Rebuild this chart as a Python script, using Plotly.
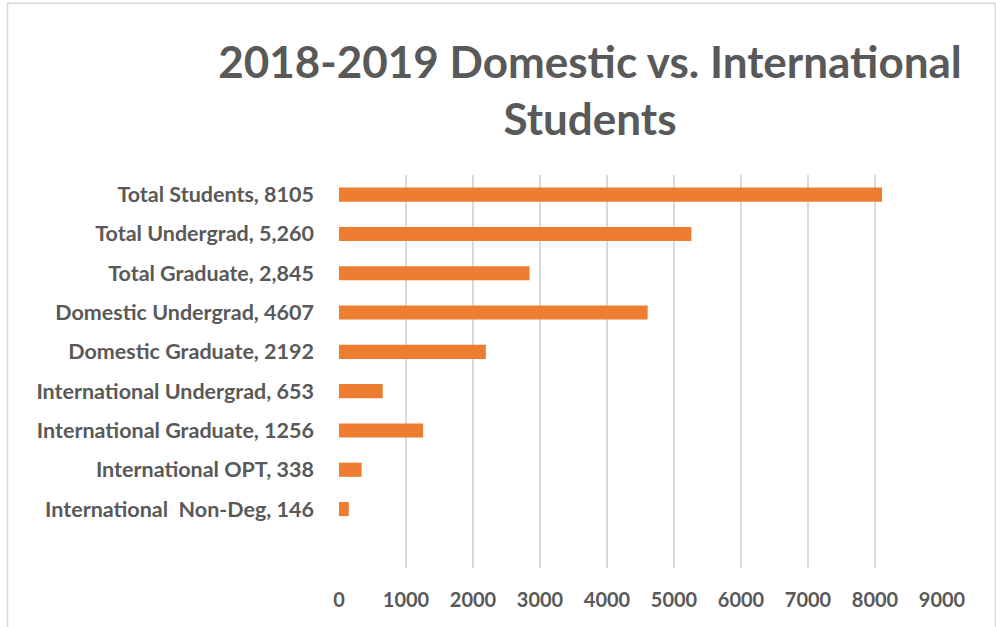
import plotly.graph_objects as go

categories = [
    "Total Students, 8105",
    "Total Undergrad, 5,260",
    "Total Graduate, 2,845",
    "Domestic Undergrad, 4607",
    "Domestic Graduate, 2192",
    "International Undergrad, 653",
    "International Graduate, 1256",
    "International OPT, 338",
    "International\u00a0 Non-Deg, 146",
]
values = [8105, 5260, 2845, 4607, 2192, 653, 1256, 338, 146]
x_ticks = [0, 1000, 2000, 3000, 4000, 5000, 6000, 7000, 8000, 9000]

W, H = 996, 627
ML, MR, MT, MB = 338.5, 54.4, 174.7, 59.3
PW, PH = W - ML - MR, H - MT - MB

def px_x(p):
    return (p - ML) / PW

def px_y(p):
    return 1 - (p - MT) / PH

GRAY = "#595959"
FONT = "Lato"

fig = go.Figure()
fig.add_trace(go.Bar(
    y=categories, x=values, orientation="h",
    marker=dict(color="#ED7D31", line=dict(width=0)),
    width=0.36,
    hoverinfo="x+y",
))

fig.update_layout(
    width=W, height=H,
    margin=dict(l=ML, r=MR, t=MT, b=MB, pad=0),
    paper_bgcolor="white", plot_bgcolor="white",
    showlegend=False,
    title=dict(
        text="2018-2019 Domestic vs. International<br>Students",
        x=590 / W, xanchor="center",
        y=1 - 78 / H, yanchor="top",
        font=dict(family=FONT, size=44, color=GRAY, weight="bold"),
    ),
    xaxis=dict(
        range=[0, 9000], tickvals=x_ticks, ticktext=[str(t) for t in x_ticks],
        showgrid=True, gridcolor="#D9D9D9", gridwidth=2,
        zeroline=False, showline=False,
        tickfont=dict(family=FONT, size=20, color=GRAY, weight="bold"),
        ticklabelstandoff=18,
        fixedrange=True,
    ),
    yaxis=dict(
        type="category", categoryorder="array", categoryarray=categories,
        range=[9.5, -0.5],
        showgrid=False, zeroline=False, showline=False,
        tickfont=dict(family=FONT, size=21.5, color=GRAY, weight="bold"),
        ticklabelstandoff=24,
        fixedrange=True,
    ),
    shapes=[dict(
        type="rect", xref="paper", yref="paper",
        x0=px_x(7), x1=px_x(995), y0=px_y(700), y1=px_y(3),
        line=dict(color="#D9D9D9", width=1.5), fillcolor="rgba(0,0,0,0)",
        layer="below",
    )],
)

fig.write_html("out.html", config={"displayModeBar": False},
               post_script="document.body.style.margin='0';")
